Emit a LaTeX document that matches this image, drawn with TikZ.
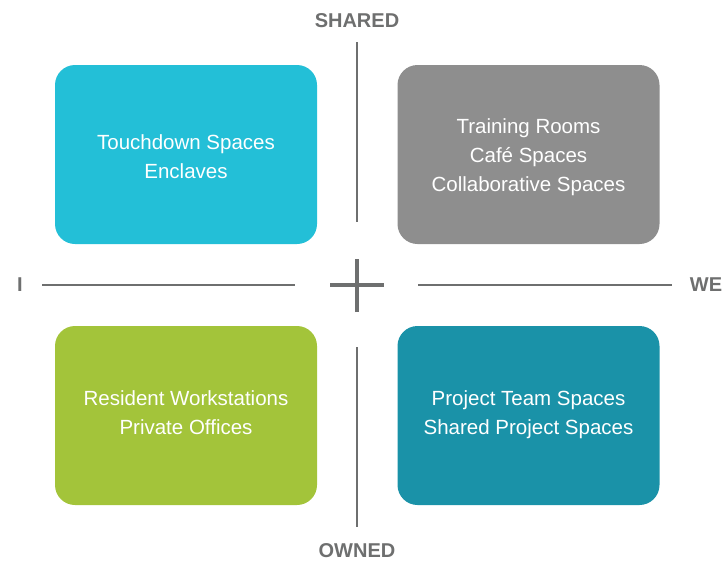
\documentclass[tikz,border=0pt]{standalone}
\usepackage{fontspec}
\setmainfont{Liberation Sans}
\usetikzlibrary{positioning}
\definecolor{quad-cyan}{HTML}{23BFD7}
\definecolor{quad-gray}{HTML}{8E8E8E}
\definecolor{quad-green}{HTML}{A3C43A}
\definecolor{quad-teal}{HTML}{1A92A8}
\definecolor{axis-gray}{HTML}{6E6F6F}
\begin{document}
\begin{tikzpicture}[x=1pt, y=-1pt,
  quadbox/.style={rounded corners=20pt, minimum width=262pt, minimum height=179pt, inner sep=0pt},
  quadtext/.style={inner sep=0pt, align=center, text=white, font=\fontsize{20.5}{29}\selectfont},
  axislabel/.style={text=axis-gray, inner sep=0pt, font=\bfseries\fontsize{20}{24}\selectfont},
  axisline/.style={draw=axis-gray, line width=2.4pt}]
\useasboundingbox (0,0) rectangle (725,562);
% quadrants
\node[quadbox, fill=quad-cyan] (touchdown) at (186,154.5) {};
\node[quadbox, fill=quad-gray] (training) at (528.5,154.5) {};
\node[quadbox, fill=quad-green] (resident) at (186,415.5) {};
\node[quadbox, fill=quad-teal] (project) at (528.5,415.5) {};
% quadrant texts
\node[quadtext] (touchdown-text) at ([yshift=-2pt]touchdown.center) {Touchdown Spaces\\Enclaves};
\node[quadtext] (training-text) at ([yshift=-3pt]training.center) {Training Rooms\\Café Spaces\\Collaborative Spaces};
\node[quadtext] (resident-text) at ([yshift=3pt]resident.center) {Resident Workstations\\Private Offices};
\node[quadtext] (project-text) at ([yshift=1pt]project.center) {Project Team Spaces\\Shared Project Spaces};
% axis labels
\node[axislabel] (shared) at (357,21) {SHARED};
\node[axislabel] (owned) at (357,551) {OWNED};
\node[axislabel] (me) at (20,285) {I};
\node[axislabel] (we) at (706,285) {WE};
% axis ends
\coordinate (top1) at (357,42);
\coordinate (top2) at (357,222);
\coordinate (bot1) at (357,347);
\coordinate (bot2) at (357,527);
\coordinate (left1) at (42,285);
\coordinate (left2) at (295,285);
\coordinate (right1) at (418,285);
\coordinate (right2) at (672,285);
\draw[axisline] (top1) -- (top2);
\draw[axisline] (bot1) -- (bot2);
\draw[axisline] (left1) -- (left2);
\draw[axisline] (right1) -- (right2);
% center cross
\coordinate (centre) at (357,285);
\draw[draw=axis-gray, line width=4.5pt] ([yshift=-27pt]centre) -- ([yshift=26pt]centre)
  ([xshift=-27pt]centre) -- ([xshift=27pt]centre);
\end{tikzpicture}
\end{document}
